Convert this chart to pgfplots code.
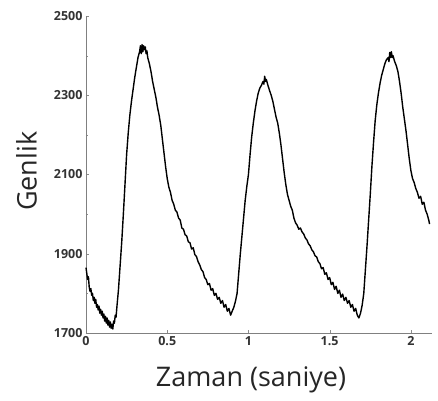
\documentclass[border=0pt]{standalone}
\usepackage{fontspec}
\setmainfont{Open Sans}
\usepackage{pgfplots}
\pgfplotsset{compat=1.18}

\begin{document}
\begin{tikzpicture}
\begin{axis}[
    scale only axis,
    width=346pt, height=317pt,
    xmin=0, xmax=2.13,
    ymin=1700, ymax=2500,
    axis lines*=left,
    axis line style={black!50, line width=0.8pt},
    tick align=inside,
    major tick length=3pt,
    minor tick length=2pt,
    tick style={black!45},
    xtick={0,0.5,1,1.5,2},
    ytick={1700,1900,2100,2300,2500},
    minor ytick={1800,2000,2200,2400},
    /pgf/number format/1000 sep={},
    /pgf/number format/assume math mode=true,
    tick label style={font=\fontsize{12.5}{14}\selectfont\bfseries, text=black!80},
    xlabel={Zaman (saniye)},
    ylabel={Genlik},
    label style={font=\fontsize{27}{30}\selectfont, text=black!85},
    xlabel style={at={(axis description cs:0.477,-0.148)}, anchor=center},
    ylabel style={at={(axis description cs:-0.172,0.51)}, anchor=center, rotate=0},
    clip=false,
]
\addplot[black, line width=1.4pt, line join=round] coordinates {
(0.000,1865) (0.005,1850) (0.010,1835) (0.015,1842) (0.020,1815) (0.025,1805)
(0.030,1812) (0.035,1795) (0.040,1800) (0.045,1782) (0.050,1790) (0.055,1775)
(0.060,1785) (0.065,1765) (0.070,1772) (0.075,1758) (0.080,1768) (0.085,1750)
(0.090,1760) (0.095,1745) (0.100,1755) (0.105,1738) (0.110,1748) (0.115,1730)
(0.120,1742) (0.125,1725) (0.130,1738) (0.135,1720) (0.140,1732) (0.145,1715)
(0.150,1728) (0.155,1712) (0.160,1722) (0.165,1710) (0.170,1730) (0.175,1725)
(0.180,1745) (0.185,1740) (0.190,1765)
(0.200,1810) (0.210,1870) (0.220,1930) (0.230,2000) (0.240,2075) (0.250,2150)
(0.260,2205) (0.270,2250) (0.280,2285) (0.290,2315) (0.300,2345) (0.310,2370)
(0.320,2395) (0.330,2410) (0.335,2425) (0.340,2405) (0.345,2428) (0.350,2410)
(0.355,2425) (0.360,2415) (0.365,2422) (0.370,2405) (0.375,2412) (0.380,2395)
(0.390,2380) (0.400,2360) (0.410,2335) (0.420,2315) (0.430,2295) (0.440,2270)
(0.450,2250) (0.460,2225) (0.470,2190) (0.480,2155) (0.490,2120) (0.500,2090)
(0.510,2068) (0.520,2055) (0.530,2035) (0.540,2025) (0.550,2010) (0.560,2005)
(0.570,1990) (0.580,1985) (0.590,1965) (0.600,1962) (0.610,1948) (0.620,1945)
(0.630,1930) (0.640,1928) (0.650,1912) (0.660,1915) (0.670,1898) (0.680,1893)
(0.690,1880) (0.700,1872) (0.710,1860) (0.720,1855) (0.730,1840) (0.740,1835)
(0.750,1822) (0.760,1825) (0.770,1808) (0.780,1812) (0.790,1795) (0.800,1800)
(0.810,1785) (0.820,1790) (0.830,1775) (0.840,1782) (0.850,1765) (0.860,1772)
(0.870,1755) (0.880,1762) (0.890,1745) (0.900,1755) (0.910,1765) (0.920,1780)
(0.930,1800) (0.940,1850) (0.950,1900) (0.960,1945) (0.970,1990) (0.980,2035)
(0.990,2070) (1.000,2100) (1.010,2150) (1.020,2195) (1.030,2230) (1.040,2260)
(1.050,2285) (1.060,2305) (1.070,2318) (1.080,2325) (1.090,2335) (1.095,2328)
(1.100,2348) (1.105,2335) (1.110,2340) (1.120,2325) (1.130,2312) (1.140,2300)
(1.150,2285) (1.160,2265) (1.170,2245) (1.180,2230) (1.190,2205) (1.200,2175)
(1.210,2140) (1.220,2105) (1.230,2075) (1.240,2050) (1.250,2035) (1.260,2020)
(1.270,2010) (1.280,1990) (1.290,1978) (1.300,1972) (1.310,1962) (1.320,1965)
(1.330,1955) (1.340,1950) (1.350,1940) (1.360,1935) (1.370,1925) (1.380,1920)
(1.390,1910) (1.400,1905) (1.410,1895) (1.420,1892) (1.430,1880) (1.440,1875)
(1.450,1862) (1.460,1865) (1.470,1848) (1.480,1852) (1.490,1835) (1.500,1840)
(1.510,1822) (1.520,1828) (1.530,1810) (1.540,1818) (1.550,1800) (1.560,1808)
(1.570,1790) (1.580,1798) (1.590,1782) (1.600,1790) (1.610,1775) (1.620,1782)
(1.630,1765) (1.640,1772) (1.650,1755) (1.660,1762) (1.670,1745) (1.680,1738)
(1.690,1750) (1.700,1770) (1.710,1800)
(1.720,1860) (1.730,1920) (1.740,1985) (1.750,2050) (1.760,2120) (1.770,2180)
(1.780,2235) (1.790,2275) (1.800,2305) (1.810,2330) (1.820,2350) (1.830,2365)
(1.840,2380) (1.850,2390) (1.860,2395) (1.865,2385) (1.870,2408) (1.875,2395)
(1.880,2410) (1.885,2395) (1.890,2400) (1.900,2385) (1.910,2375) (1.920,2360)
(1.930,2335) (1.940,2305) (1.950,2270) (1.960,2240) (1.970,2210) (1.980,2175)
(1.990,2140) (2.000,2110) (2.010,2090) (2.020,2080) (2.030,2065) (2.040,2055)
(2.050,2040) (2.060,2045) (2.070,2025) (2.080,2030) (2.090,2010) (2.100,2000)
(2.110,1985) (2.115,1975)
};
\end{axis}
\path[use as bounding box] (-86pt,-67pt) rectangle (352pt,333pt);
\end{tikzpicture}
\end{document}
